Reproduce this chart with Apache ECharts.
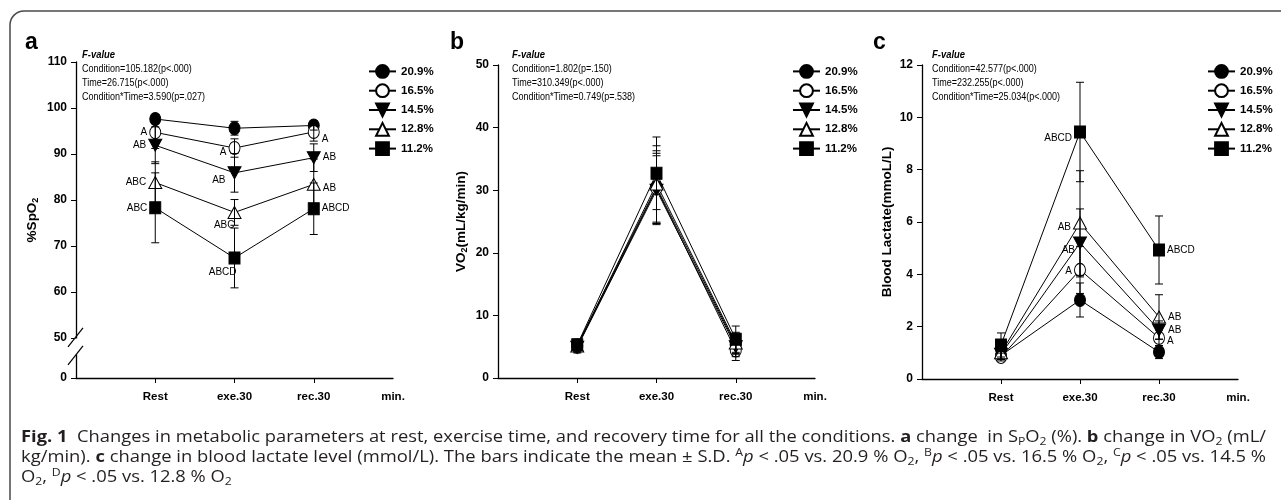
<!DOCTYPE html>
<html><head><meta charset="utf-8">
<script src="https://cdn.jsdelivr.net/npm/echarts@6/dist/echarts.min.js"></script>
<style>html,body{margin:0;padding:0;background:#fff}#c{width:1281px;height:500px}</style>
</head><body><div id="c"></div>
<script>
// ---------------- DATA ----------------
const categories = ['', 'Rest', 'exe.30', 'rec.30', 'min.'];
const conditions = ['20.9%', '16.5%', '14.5%', '12.8%', '11.2%'];

// Panel a: %SpO2 (Rest, exe.30, rec.30) per condition
const spo2Mean = [
  [97.6, 95.6, 96.2],
  [94.7, 91.3, 94.8],
  [91.9, 85.9, 89.2],
  [83.8, 77.3, 83.4],
  [78.3, 67.4, 78.1]
];
const spo2SD = [
  [1.0, 1.5, 1.0],
  [3.5, 2.0, 2.0],
  [4.0, 4.2, 3.0],
  [4.5, 2.8, 5.5],
  [7.6, 6.5, 5.6]
];
const spo2Sig = [
  ['', '', ''],
  ['A', 'A', 'A'],
  ['AB', 'AB', 'AB'],
  ['ABC', 'ABC', 'AB'],
  ['ABC', 'ABCD', 'ABCD']
];
const spo2Ticks = [0, 50, 60, 70, 80, 90, 100, 110];

// Panel b: VO2 (mL/kg/min)
const vo2Mean = [
  [5.2, 30.5, 5.3],
  [5.0, 30.3, 4.4],
  [4.9, 30.0, 5.0],
  [5.1, 31.0, 5.6],
  [5.3, 32.7, 6.2]
];
const vo2SD = [
  [0.8, 5.8, 1.5],
  [0.8, 5.6, 1.6],
  [0.9, 5.5, 1.6],
  [0.8, 6.1, 1.7],
  [0.9, 5.8, 2.1]
];

// Panel c: Blood lactate (mmol/L)
const lacMean = [
  [0.90, 3.02, 1.03],
  [0.84, 4.17, 1.57],
  [0.95, 5.20, 1.87],
  [1.00, 5.96, 2.37],
  [1.30, 9.44, 4.93]
];
const lacSD = [
  [0.15, 0.65, 0.25],
  [0.15, 0.90, 0.30],
  [0.20, 1.30, 0.35],
  [0.25, 2.00, 0.85],
  [0.46, 1.90, 1.30]
];
const lacSig = [
  ['', '', ''],
  ['', 'A', 'A'],
  ['', 'AB', 'AB'],
  ['', 'AB', 'AB'],
  ['', 'ABCD', 'ABCD']
];

const fValuesA = ['Condition=105.182(p<.000)', 'Time=26.715(p<.000)', 'Condition*Time=3.590(p=.027)'];
const fValuesB = ['Condition=1.802(p=.150)', 'Time=310.349(p<.000)', 'Condition*Time=0.749(p=.538)'];
const fValuesC = ['Condition=42.577(p<.000)', 'Time=232.255(p<.000)', 'Condition*Time=25.034(p<.000)'];

// ---------------- STYLE / LAYOUT ----------------
function hasFont(name) {
  const ctx = document.createElement('canvas').getContext('2d');
  const s = 'abcdefghijklmnopqrstuvwxyz0123456789';
  ctx.font = '20px monospace'; const w1 = ctx.measureText(s).width;
  ctx.font = "20px '" + name + "', monospace"; const w2 = ctx.measureText(s).width;
  return w1 !== w2;
}
const NARROW = hasFont('Liberation Sans Narrow');
const SANS = "'Liberation Sans', Arial, sans-serif";
const NFF = NARROW ? "'Liberation Sans Narrow', 'Liberation Sans', Arial, sans-serif" : SANS;
const NSCALE = NARROW ? 1 : 0.82;
const tickFont = NARROW ? 13 : 11.5;
const legendFont = NARROW ? 13 : 11.5;
const sigFont = NARROW ? 11 : 10;

const SPO2_FLOOR = 41.3; // axis position where the broken-axis "0" is drawn

const symbolDefs = [
  { symbol: 'circle', size: [11, 13], fill: '#000' },
  { symbol: 'circle', size: [11, 13], fill: '#fff' },
  { symbol: 'path://M0,0L10,0L5,9Z', size: [13, 12], fill: '#000' },
  { symbol: 'triangle', size: [13, 12], fill: '#fff' },
  { symbol: 'rect', size: [11, 12], fill: '#000' }
];

const placeA = [
  [null, null, null],
  [['left', [0, 0]], ['left', [0, 4]], ['right', [0, 7]]],
  [['left', [0, 0]], ['left', [0, 7]], ['right', [0, 0]]],
  [['left', [0, 0]], ['left', [9, 13]], ['right', [0, 4]]],
  [['left', [0, 0]], ['left', [10, 14]], ['right', [0, 0]]]
];
const placeC = [
  [null, null, null],
  [null, ['left', [0, 1]], ['right', [0, 3]]],
  [null, ['left', [4, 7]], ['right', [0, 0]]],
  [null, ['left', [0, 4]], ['right', [0, 0]]],
  [null, ['left', [0, 6]], ['right', [0, 0]]]
];

const panels = [
  { grid: { left: 76, top: 62, width: 317, height: 316 }, mean: spo2Mean, sd: spo2SD, sig: spo2Sig, place: placeA,
    y: { min: SPO2_FLOOR, max: 110, custom: spo2Ticks.map(v => v === 0 ? SPO2_FLOOR : v),
         fmt: v => (v < 45 ? '0' : String(Math.round(v))), name: '%SpO{s|2}', nameGap: 36 },
    legendLeft: 363, fx: 82, fv: fValuesA, letter: 'a', lx: 25 },
  { grid: { left: 498, top: 65, width: 317, height: 313 }, mean: vo2Mean, sd: vo2SD, sig: null, place: null,
    y: { min: 0, max: 50, interval: 10, name: 'VO{s|2}(mL/kg/min)', nameGap: 29 },
    legendLeft: 787, fx: 512, fv: fValuesB, letter: 'b', lx: 450 },
  { grid: { left: 922, top: 65, width: 316, height: 314 }, mean: lacMean, sd: lacSD, sig: lacSig, place: placeC,
    y: { min: 0, max: 12, interval: 2, name: 'Blood Lactate(mmoL/L)', nameGap: 27 },
    legendLeft: 1202, fx: 932, fv: fValuesC, letter: 'c', lx: 873 }
];

const grids = [], xAxes = [], yAxes = [], series = [], legends = [], graphics = [];

function renderErr(params, api) {
  const x = api.value(0), m = api.value(1), s = api.value(2);
  const t = api.coord([x, m + s]), b = api.coord([x, m - s]);
  const w = 4, st = { stroke: '#000', lineWidth: 1 };
  return { type: 'group', children: [
    { type: 'line', shape: { x1: t[0], y1: t[1], x2: b[0], y2: b[1] }, style: st },
    { type: 'line', shape: { x1: t[0] - w, y1: t[1], x2: t[0] + w, y2: t[1] }, style: st },
    { type: 'line', shape: { x1: b[0] - w, y1: b[1], x2: b[0] + w, y2: b[1] }, style: st }
  ] };
}

panels.forEach((p, gi) => {
  grids.push(p.grid);
  xAxes.push({
    type: 'category', gridIndex: gi, data: categories, boundaryGap: false,
    axisLine: { lineStyle: { color: '#000', width: 1.3 } },
    axisTick: { length: 5, interval: (i) => i > 0 && i < 4, lineStyle: { color: '#000' } },
    axisLabel: { interval: 0, margin: 13, color: '#000', fontFamily: NFF, fontWeight: 'bold', fontSize: tickFont },
    splitLine: { show: false }
  });
  const ya = {
    type: 'value', gridIndex: gi, min: p.y.min, max: p.y.max,
    axisLine: { show: true, lineStyle: { color: '#000', width: 1.3 } },
    axisTick: { show: true, length: 5, lineStyle: { color: '#000' } },
    axisLabel: { margin: 9, color: '#000', fontFamily: SANS, fontWeight: 'bold', fontSize: 12 },
    splitLine: { show: false },
    name: p.y.name, nameLocation: 'middle', nameGap: p.y.nameGap, nameRotate: 90,
    nameTextStyle: { color: '#000', fontFamily: SANS, fontWeight: 'bold', fontSize: 13.5, lineHeight: 16,
      rich: { s: { fontSize: 9, fontWeight: 'bold', fontFamily: SANS, color: '#000', verticalAlign: 'bottom', lineHeight: 10 } } }
  };
  if (p.y.custom) {
    ya.axisTick.customValues = p.y.custom;
    ya.axisLabel.customValues = p.y.custom;
    ya.axisLabel.formatter = p.y.fmt;
  } else {
    ya.interval = p.y.interval;
  }
  yAxes.push(ya);

  conditions.forEach((name, si) => {
    const sd = symbolDefs[si];
    const data = p.mean[si].map((m, ci) => {
      const item = { value: [ci + 1, m] };
      const txt = p.sig ? p.sig[si][ci] : '';
      if (txt) {
        const pl = p.place[si][ci];
        item.label = { show: true, formatter: txt, position: pl[0], offset: pl[1], distance: 2,
          color: '#000', fontFamily: NFF, fontSize: sigFont };
      }
      return item;
    });
    series.push({
      type: 'line', name, xAxisIndex: gi, yAxisIndex: gi, data,
      symbol: sd.symbol, symbolSize: sd.size, showAllSymbol: true,
      lineStyle: { color: '#000', width: 1 },
      itemStyle: { color: sd.fill, borderColor: '#000', borderWidth: 1 },
      label: { show: false },
      emphasis: { disabled: true }, animation: false, z: 2
    });
  });
  const errData = [];
  conditions.forEach((_, si) => p.mean[si].forEach((m, ci) => errData.push([ci + 1, m, p.sd[si][ci]])));
  series.push({
    type: 'custom', name: 'err' + gi, xAxisIndex: gi, yAxisIndex: gi, data: errData,
    encode: { x: 0, y: 1 }, renderItem: renderErr, z: 3, animation: false, silent: true
  });

  legends.push({
    data: conditions, orient: 'vertical', left: p.legendLeft, top: 59,
    itemWidth: 27, itemHeight: 16, itemGap: 4.5, selectedMode: false,
    textStyle: { color: '#000', fontFamily: NFF, fontWeight: 'bold', fontSize: legendFont }
  });

  // panel letter
  graphics.push({ type: 'text', x: p.lx, y: 42.5, z: 50,
    style: { text: p.letter, fill: '#000', font: "bold 23px " + SANS, verticalAlign: 'middle', align: 'left' } });
  // F-value block
  graphics.push({ type: 'text', x: p.fx, y: 55, scaleX: NSCALE, z: 50,
    style: { text: 'F-value', fill: '#000', font: "italic bold 11.5px " + NFF, verticalAlign: 'middle' } });
  p.fv.forEach((t, k) => graphics.push({ type: 'text', x: p.fx, y: 69 + 14 * k, scaleX: NSCALE, z: 50,
    style: { text: t, fill: '#000', font: "11px " + NFF, verticalAlign: 'middle' } }));
});

// frame
graphics.push({ type: 'rect', z: -10, silent: true,
  shape: { x: 10, y: 11, width: 1500, height: 800, r: 14 },
  style: { fill: 'none', stroke: '#4a4a4a', lineWidth: 1.5 } });

// caption
const CAPF = "'Open Sans', 'Liberation Sans', sans-serif";
const capStyle = {
  n: { fontSize: 16.5, fontWeight: 'normal', fontStyle: 'normal', lineHeight: 20 },
  b: { fontSize: 16.5, fontWeight: 'bold', fontStyle: 'normal', lineHeight: 20 },
  i: { fontSize: 16.5, fontWeight: 'normal', fontStyle: 'italic', lineHeight: 20 },
  sub: { fontSize: 11, fontWeight: 'normal', fontStyle: 'normal', verticalAlign: 'bottom', lineHeight: 11 },
  sup: { fontSize: 11, fontWeight: 'normal', fontStyle: 'normal', verticalAlign: 'top', lineHeight: 11 }
};
const capLines = [
  [['b', 'Fig. 1'], ['n', '  Changes in metabolic parameters at rest, exercise time, and recovery time for all the conditions. '],
   ['b', 'a'], ['n', ' change  in S'], ['sub', 'P'], ['n', 'O'], ['sub', '2'], ['n', ' (%). '], ['b', 'b'],
   ['n', ' change in VO'], ['sub', '2'], ['n', ' (mL/']],
  [['n', 'kg/min). '], ['b', 'c'], ['n', ' change in blood lactate level (mmol/L). The bars indicate the mean \u00b1 S.D. '],
   ['sup', 'A'], ['i', 'p'], ['n', ' < .05 vs. 20.9 % O'], ['sub', '2'], ['n', ', '],
   ['sup', 'B'], ['i', 'p'], ['n', ' < .05 vs. 16.5 % O'], ['sub', '2'], ['n', ', '],
   ['sup', 'C'], ['i', 'p'], ['n', ' < .05 vs. 14.5 %']],
  [['n', 'O'], ['sub', '2'], ['n', ', '], ['sup', 'D'], ['i', 'p'], ['n', ' < .05 vs. 12.8 % O'], ['sub', '2']]
];
const mctx = document.createElement('canvas').getContext('2d');
function measure(segs) {
  let w = 0;
  segs.forEach(([k, t]) => { const s = capStyle[k];
    mctx.font = s.fontStyle + ' ' + s.fontWeight + ' ' + s.fontSize + 'px ' + CAPF; w += mctx.measureText(t).width; });
  return w;
}
const CAP_X = 21, CAP_W = 1245;
const scales = capLines.slice(0, 2).map(l => CAP_W / measure(l));
const capScale = [scales[0], scales[1], (scales[0] + scales[1]) / 2];
const rich = {};
Object.keys(capStyle).forEach(k => { rich[k] = Object.assign({ fontFamily: CAPF, fill: '#231f20' }, capStyle[k]); });
capLines.forEach((segs, li) => {
  graphics.push({ type: 'text', x: CAP_X, y: 437 + 20 * li, scaleX: capScale[li], z: 50,
    style: { text: segs.map(([k, t]) => '{' + k + '|' + t + '}').join(''), rich, verticalAlign: 'middle', align: 'left' } });
});

const chart = echarts.init(document.getElementById('c'));
chart.setOption({
  animation: false, backgroundColor: '#fff',
  grid: grids, xAxis: xAxes, yAxis: yAxes, series, legend: legends, graphic: graphics
});

// broken-axis marks on panel a (positioned from the axis scale)
const axX = chart.convertToPixel({ xAxisIndex: 0 }, 0);
const y50 = chart.convertToPixel({ yAxisIndex: 0 }, 50);
const brk = [
  { type: 'rect', z: 60, shape: { x: axX - 2, y: y50 + 0.5, width: 4, height: 16 }, style: { fill: '#fff' } },
  { type: 'line', z: 61, shape: { x1: axX - 8, y1: y50 + 9, x2: axX + 7, y2: y50 - 10 }, style: { stroke: '#000', lineWidth: 1.2 } },
  { type: 'line', z: 61, shape: { x1: axX - 8, y1: y50 + 27, x2: axX + 7, y2: y50 + 8 }, style: { stroke: '#000', lineWidth: 1.2 } }
];
chart.setOption({ graphic: graphics.concat(brk) });
</script></body></html>
